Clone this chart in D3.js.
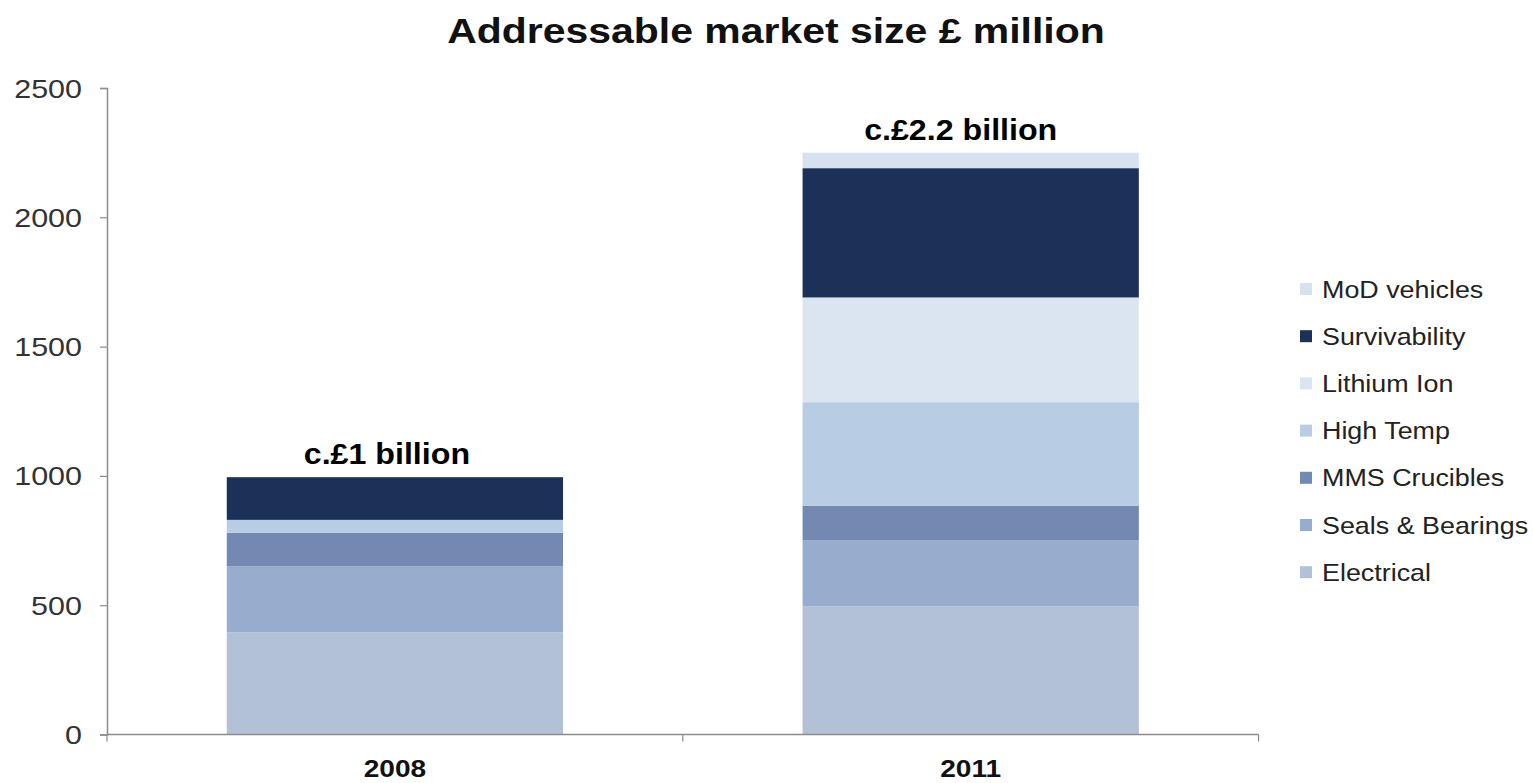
<!DOCTYPE html>
<html>
<head>
<meta charset="utf-8">
<script src="https://cdn.jsdelivr.net/npm/d3@7"></script>
<style>
  html, body { margin: 0; padding: 0; background: #ffffff; }
  svg { display: block; font-family: "Liberation Sans", Arial, sans-serif; }
</style>
</head>
<body>
<svg id="chart" width="1533" height="783"></svg>
<script>
// Market size data (£ million), stacked bottom to top
const years = ["2008", "2011"];
const segments = ["Electrical", "Seals & Bearings", "MMS Crucibles", "High Temp", "Lithium Ion", "Survivability", "MoD vehicles"];
const electrical     = [395, 495];
const sealsBearings  = [255, 255];
const mmsCrucibles   = [130, 135];
const highTemp       = [50, 400];
const lithiumIon     = [0, 405];
const survivability  = [165, 500];
const modVehicles    = [0, 60];
const totalLabels    = ["c.£1 billion", "c.£2.2 billion"];
const yTicks         = [0, 500, 1000, 1500, 2000, 2500];
const segmentColors  = ["#b3c1d6", "#98adcd", "#7389b2", "#b8cce4", "#dbe5f1", "#1b3157", "#d7e2f1"];

const seriesValues = [electrical, sealsBearings, mmsCrucibles, highTemp, lithiumIon, survivability, modVehicles];
const rows = years.map((yr, i) => {
  const r = { year: yr };
  segments.forEach((s, k) => { r[s] = seriesValues[k][i]; });
  return r;
});

const svg = d3.select("#chart");
const plot = { left: 107, right: 1258.6, top: 88, bottom: 734.5 };

const x = d3.scaleBand().domain(years).range([plot.left, plot.right]).paddingInner(0.416).paddingOuter(0.208);
const y = d3.scaleLinear().domain([0, 2500]).range([plot.bottom, plot.top]);
const color = d3.scaleOrdinal().domain(segments).range(segmentColors);

const stack = d3.stack().keys(segments)(rows);

// Text drawn with a slightly wide letterform (horizontal stretch)
function wideText(sel, px, py, sx) {
  return sel.attr("x", 0).attr("y", 0)
    .attr("transform", (d, i) => `translate(${typeof px === "function" ? px(d, i) : px},${typeof py === "function" ? py(d, i) : py}) scale(${sx},1)`);
}

// Stacked bars
svg.append("g").selectAll("g")
  .data(stack).join("g")
  .attr("fill", d => color(d.key))
  .selectAll("rect")
  .data(d => d).join("rect")
  .attr("x", d => x(d.data.year))
  .attr("width", x.bandwidth())
  .attr("y", d => y(d[1]))
  .attr("height", d => y(d[0]) - y(d[1]));

// Y axis
const yAxis = svg.append("g")
  .attr("transform", `translate(${plot.left},0)`)
  .call(d3.axisLeft(y).tickValues(yTicks).tickSize(7).tickFormat(d3.format("d")));
yAxis.select(".domain").attr("stroke", "#8c8c8c").attr("stroke-width", 1.5);
yAxis.selectAll(".tick line").attr("stroke", "#8c8c8c").attr("stroke-width", 1.2);
yAxis.selectAll(".tick text")
  .attr("x", 0).attr("dy", "0.36em")
  .attr("transform", "translate(-25,0) scale(1.22,1)")
  .attr("font-size", 25).attr("fill", "#333333")
  .attr("font-family", "'Liberation Sans', Arial, sans-serif");

// X axis with boundary ticks between categories
const xAxisG = svg.append("g").attr("transform", `translate(0,${plot.bottom})`);
xAxisG.append("line")
  .attr("x1", plot.left).attr("x2", plot.right)
  .attr("stroke", "#8c8c8c").attr("stroke-width", 1.5);
const boundaries = [plot.left, (x("2008") + x.bandwidth() + x("2011")) / 2, plot.right];
xAxisG.selectAll("line.b").data(boundaries).join("line")
  .attr("class", "b")
  .attr("x1", d => d).attr("x2", d => d)
  .attr("y1", 0).attr("y2", 7)
  .attr("stroke", "#8c8c8c").attr("stroke-width", 1.2);
wideText(xAxisG.selectAll("text").data(years).join("text"),
    d => x(d) + x.bandwidth() / 2, 42.5, 1.17)
  .attr("text-anchor", "middle")
  .attr("font-size", 24).attr("font-weight", "bold").attr("fill", "#111111")
  .text(d => d);

// Total labels above bars
const totals = rows.map(r => d3.sum(segments, s => r[s]));
wideText(svg.append("g").selectAll("text").data(years).join("text"),
    (d, i) => x(d) + x.bandwidth() / 2 - (i === 0 ? 8 : 10),
    (d, i) => y(totals[i]) - 13, 1.11)
  .attr("text-anchor", "middle")
  .attr("font-size", 29).attr("font-weight", "bold").attr("fill", "#000000")
  .text((d, i) => totalLabels[i]);

// Title
wideText(svg.append("text"), 776, 43, 1.17)
  .attr("text-anchor", "middle")
  .attr("font-size", 35).attr("font-weight", "bold").attr("fill", "#111111")
  .text("Addressable market size £ million");

// Legend, listed top segment first
const legendItems = segments.slice().reverse();
const legend = svg.append("g").attr("transform", "translate(1300,289)");
const li = legend.selectAll("g").data(legendItems).join("g")
  .attr("transform", (d, i) => `translate(0,${i * 47.2})`);
li.append("rect")
  .attr("x", 0).attr("y", -6).attr("width", 12).attr("height", 12)
  .attr("fill", d => color(d));
wideText(li.append("text"), 22, 0, 1.12)
  .attr("dy", "0.36em")
  .attr("font-size", 24).attr("fill", "#222222")
  .text(d => d);
</script>
</body>
</html>
